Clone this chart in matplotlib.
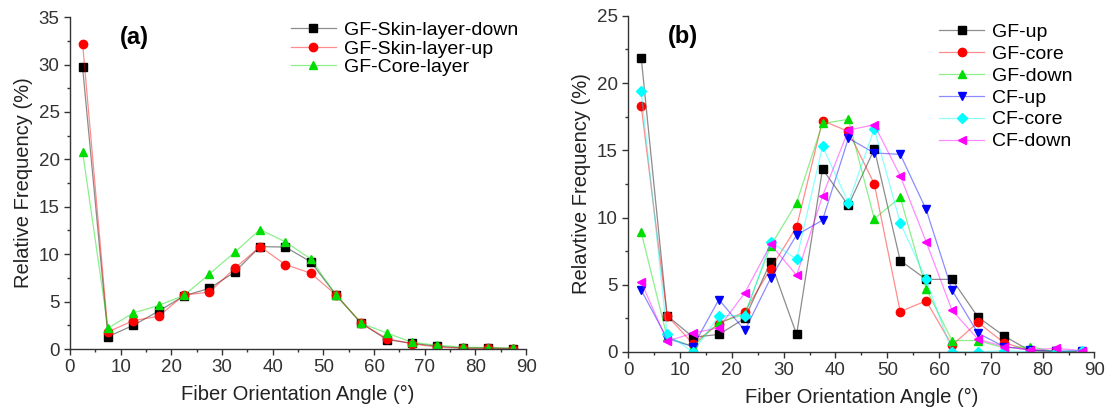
import numpy as np
import matplotlib
matplotlib.use('Agg')
from matplotlib import pyplot as plt
from matplotlib.ticker import MultipleLocator

plt.rcParams['font.family'] = ['Liberation Sans', 'DejaVu Sans']

# fiber orientation angle bins (centres)
angles = [2.5, 7.5, 12.5, 17.5, 22.5, 27.5, 32.5, 37.5, 42.5,
          47.5, 52.5, 57.5, 62.5, 67.5, 72.5, 77.5, 82.5, 87.5]

# panel (a)
skin_down = [29.7, 1.3, 2.5, 4.0, 5.6, 6.4, 8.1, 10.8, 10.75,
             9.2, 5.7, 2.7, 1.0, 0.6, 0.3, 0.1, 0.1, 0.05]
skin_up = [32.2, 1.8, 3.0, 3.45, 5.7, 6.0, 8.5, 10.8, 8.9,
           8.0, 5.7, 2.7, 1.1, 0.55, 0.2, 0.1, 0.1, 0.05]
core = [20.8, 2.2, 3.8, 4.6, 5.65, 7.9, 10.2, 12.6, 11.3,
        9.5, 5.7, 2.7, 1.7, 0.7, 0.4, 0.2, 0.15, 0.1]

# panel (b)
gf_up = [21.9, 2.7, 1.1, 1.3, 2.5, 6.7, 1.3, 13.6, 10.9,
         15.1, 6.8, 5.4, 5.4, 2.6, 1.2, 0.1, 0.05, 0.0]
gf_core = [18.3, 2.7, 0.6, 2.1, 3.0, 6.2, 9.3, 17.2, 16.4,
           12.5, 3.0, 3.8, 0.5, 2.2, 0.7, 0.1, 0.0, 0.0]
gf_down = [8.9, 1.1, 0.4, 2.2, 2.8, 7.9, 11.1, 17.0, 17.3,
           9.9, 11.5, 4.7, 0.85, 0.85, 0.3, 0.4, 0.0, 0.0]
cf_up = [4.6, 1.0, 0.4, 3.9, 1.6, 5.5, 8.7, 9.8, 15.9,
         14.8, 14.7, 10.6, 4.6, 1.4, 0.4, 0.15, 0.05, 0.1]
cf_core = [19.4, 1.3, 0.0, 2.7, 2.7, 8.2, 6.9, 15.3, 11.1,
           16.6, 9.6, 5.4, 0.0, 0.0, 0.1, 0.0, 0.0, 0.1]
cf_down = [5.2, 0.8, 1.4, 1.8, 4.4, 8.0, 5.7, 11.6, 16.5,
           16.9, 13.1, 8.2, 3.1, 0.95, 0.4, 0.15, 0.27, 0.1]


def draw(ax, y, color, marker, label, ms=5.5):
    lc = matplotlib.colors.to_rgba(color, 0.45)
    ax.plot(angles, y, color=lc, lw=0.9, marker=marker, ms=ms,
            markerfacecolor=color, markeredgecolor=color, label=label)


def style(ax, ymax, ylabel):
    ax.set_xlim(0, 90)
    ax.set_ylim(0, ymax)
    ax.xaxis.set_major_locator(MultipleLocator(10))
    ax.xaxis.set_minor_locator(MultipleLocator(5))
    ax.yaxis.set_major_locator(MultipleLocator(5))
    ax.yaxis.set_minor_locator(MultipleLocator(2.5))
    ax.spines['top'].set_visible(False)
    ax.spines['right'].set_visible(False)
    for s in ('left', 'bottom'):
        ax.spines[s].set_linewidth(1.0)
        ax.spines[s].set_color('#333333')
    ax.tick_params(which='major', length=4, width=1, labelsize=13.5, colors='#333333')
    ax.tick_params(which='minor', length=2.5, width=1, colors='#333333')
    ax.set_xlabel('Fiber Orientation Angle (°)', fontsize=14.5, color='#222222', labelpad=6)
    ax.set_ylabel(ylabel, fontsize=14.5, color='#222222')


fig = plt.figure(figsize=(11.1, 4.17), dpi=100)
ax1 = fig.add_axes([0.063, 0.163, 0.411, 0.796])
ax2 = fig.add_axes([0.566, 0.156, 0.420, 0.806])

draw(ax1, skin_down, 'black', 's', 'GF-Skin-layer-down')
draw(ax1, skin_up, 'red', 'o', 'GF-Skin-layer-up', 6)
draw(ax1, core, '#00dd00', '^', 'GF-Core-layer', 6)
style(ax1, 35, 'Relative Frequency (%)')
ax1.text(0.11, 0.92, '(a)', transform=ax1.transAxes, fontsize=17, fontweight='bold')
ax1.legend(loc='upper right', bbox_to_anchor=(1.02, 1.04), frameon=False,
           fontsize=14, handlelength=2.3, labelspacing=0.05, handletextpad=0.4)

draw(ax2, gf_up, 'black', 's', 'GF-up')
draw(ax2, gf_core, 'red', 'o', 'GF-core', 6)
draw(ax2, gf_down, '#00dd00', '^', 'GF-down', 6)
draw(ax2, cf_up, 'blue', 'v', 'CF-up', 6)
draw(ax2, cf_core, 'cyan', 'D', 'CF-core')
draw(ax2, cf_down, 'magenta', '<', 'CF-down', 6)
style(ax2, 25, 'Relavtive Frequency (%)')
ax2.text(0.085, 0.92, '(b)', transform=ax2.transAxes, fontsize=17, fontweight='bold')
ax2.legend(loc='upper left', bbox_to_anchor=(0.63, 1.03), frameon=False,
           fontsize=14, handlelength=2.3, labelspacing=0.22, handletextpad=0.4)

plt.savefig('out.png', dpi=100)
